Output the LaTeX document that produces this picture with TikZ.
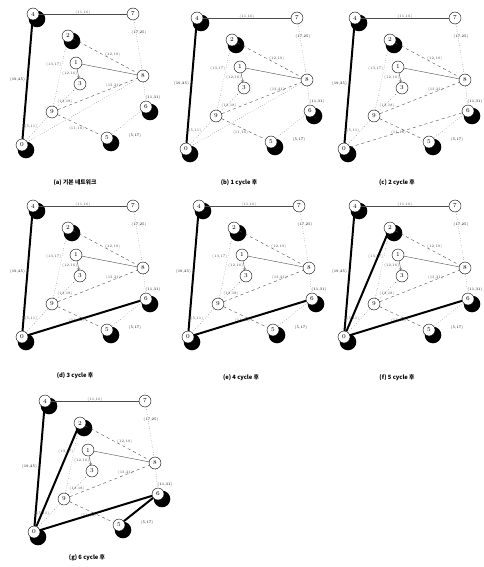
\documentclass[tikz,border=0pt]{standalone}
\usepackage{fontspec}
\newfontfamily\krfont{Noto Sans CJK KR}
\begin{document}
\begin{tikzpicture}[x=1pt,y=-1pt,
  nd/.style={circle,draw,line width=0.4pt,fill=white,minimum size=12pt,inner sep=0pt,font=\fontsize{6}{6}\selectfont},
  el/.style={font=\fontsize{3.6}{4}\selectfont,inner sep=0.5pt},
  thin edge/.style={line width=0.4pt,black!70},
  thick edge/.style={line width=2pt,black},
  captext/.style={font=\krfont\bfseries\fontsize{5.8}{6}\selectfont}]
\useasboundingbox (0,0) rectangle (484,567);
\fill[white] (0,0) rectangle (484,567);
\newcommand\netpanel[5]{%
\begin{scope}[shift={(#2,#3)}]
  \foreach \x/\y in {33/14,68/36,146/107,107/138,22/145}
    \fill (\x+4,\y+5) circle (8.3);
  \node[nd] (#1-4) at (33,14) {4};
  \node[nd] (#1-7) at (133,14) {7};
  \node[nd] (#1-2) at (68,36) {2};
  \node[nd] (#1-1) at (76,63) {1};
  \node[nd] (#1-3) at (80,84) {3};
  \node[nd] (#1-8) at (143,76) {8};
  \node[nd] (#1-6) at (146,107) {6};
  \node[nd] (#1-9) at (52,112) {9};
  \node[nd] (#1-5) at (107,138) {5};
  \node[nd] (#1-0) at (22,145) {0};
  \node[el] (#1-a7) at (139,33) {(17,25)};
  \node[el] (#1-a6) at (153,98) {(11,31)};
  \node[el] (#1-a5) at (135,136) {(5,17)};
  \draw[thin edge,line width=0.7pt] (#1-4) -- node[el,above=-1pt] {(11,16)} (#1-7);
  \draw[thin edge,dashed] (#1-2) -- node[el,above right=-1pt] {(12,19)} (#1-8);
  \draw[thin edge] (#1-1) -- (#1-8);
  \draw[thin edge,dashed] (#1-9) -- node[el,above,pos=0.7] {(13,21)} (#1-8);
  \draw[thin edge,dashed] (#1-9) -- node[el,below left=-1pt,pos=0.6] {(11,16)} (#1-5);
  \draw[thin edge,dotted] (#1-7) -- (#1-8);
  \draw[thin edge,dotted] (#1-8) -- (#1-6);
  \draw[thin edge,dotted] (#1-2) -- node[el,left,pos=0.35] {(13,17)} (#1-9);
  \draw[thin edge,->] (#1-1) -- node[el,left] {(12,16)} (#1-3);
  \draw[thin edge,dotted] (#1-0) -- node[el,above left=-1pt] {(5,11)} (#1-9);
  \draw[thin edge,dotted] (#1-6) -- (#1-5);
  \draw[thin edge,dotted] (#1-9) -- node[el,below,pos=0.45] {(12,18)} (#1-3);
  \draw[thick edge] (#1-4) -- node[el,left=1pt] {(19,25)} (#1-0);
\end{scope}
\node[captext] (#1-cap) at (#2+75,#5) {#4};}
\netpanel{a}{0}{0}{(a) 기본 네트워크}{183}
\draw[thin edge,dotted] (a-0) -- (a-8);
\netpanel{b}{164}{4}{(b) 1 cycle 후}{183}
\draw[thin edge,dotted] (b-0) -- (b-8);
\netpanel{c}{322}{4}{(c) 2 cycle 후}{183}
\draw[thin edge,dashed] (c-0) -- (c-6);
\netpanel{d}{0}{192}{(d) 3 cycle 후}{376}
\draw[thick edge] (d-0) -- (d-6);
\netpanel{e}{166}{192}{(e) 4 cycle 후}{378}
\draw[thick edge] (e-0) -- (e-6);
\netpanel{f}{322}{192}{(f) 5 cycle 후}{378}
\draw[thick edge] (f-0) -- (f-6);
\draw[thick edge] (f-0) -- (f-2);
\netpanel{g}{12}{387}{(g) 6 cycle 후}{558}
\draw[thick edge] (g-0) -- (g-6);
\draw[thick edge] (g-0) -- (g-2);
\draw[thick edge] (g-6) -- (g-5);
\end{tikzpicture}
\end{document}
